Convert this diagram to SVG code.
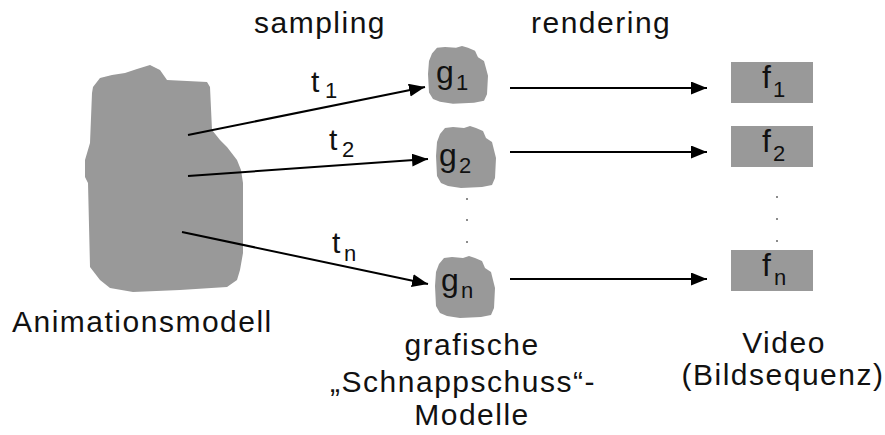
<svg xmlns="http://www.w3.org/2000/svg" width="885" height="435" viewBox="0 0 885 435">
<style>
.lbl{font-family:"Liberation Sans",Arial,sans-serif;font-size:30px;letter-spacing:1.5px;fill:#111}
.sym{font-family:"Liberation Sans",Arial,sans-serif;font-size:32px;fill:#111}
.tl{font-size:30px}
.sub{font-size:22px}
.blob{fill:#999999}
.box{fill:#999999}
.dot{fill:#666}
.conn{stroke:#000;stroke-width:2;fill:none}
</style>
<defs>
<marker id="ah" markerUnits="userSpaceOnUse" markerWidth="17" markerHeight="14" refX="16" refY="6.5" orient="auto">
<path d="M0,0 L16,6.5 L0,13 Z" fill="#000"/>
</marker>
<path id="gblob" d="M4,8 L9,2 L17,1 L28,2 L34,0 L40,2 L47,5 L50,12 L56,16 L58,24 L60,32 L59,52 L56,59 L46,61 L25,62 L12,60 L5,57 L1,50 L0,30 L1,16 Z"/>
</defs>
<rect width="885" height="435" fill="#fff"/>

<text class="lbl" x="254" y="33">sampling</text>
<text class="lbl" x="531" y="33" letter-spacing="0.5">rendering</text>

<g id="animationsmodell">
<path class="blob" d="M93,87 L100,78 L112,75 L125,73 L137,69 L150,65 L160,70 L167,80 L207,82 L210,87 L212,130 L220,140 L227,147 L237,160 L241,170 L243,183 L243,253 L240,270 L237,280 L227,287 L180,290 L133,292 L110,288 L100,280 L90,267 L88,183 L85,177 L85,160 L90,143 L92,93 Z"/>
<text class="lbl" x="12" y="332">Animationsmodell</text>
</g>

<g id="g1">
<use href="#gblob" class="blob" transform="translate(428,46) scale(1,0.93)"/>
<text class="sym" x="436" y="83">g<tspan class="sub" x="456" y="90">1</tspan></text>
</g>
<g id="g2">
<use href="#gblob" class="blob" transform="translate(436,126)"/>
<text class="sym" x="439" y="166">g<tspan class="sub" x="459" y="173">2</tspan></text>
</g>
<g id="gn">
<use href="#gblob" class="blob" transform="translate(435,256)"/>
<text class="sym" x="441" y="291">g<tspan class="sub" x="461" y="298">n</tspan></text>
</g>
<g id="gdots">
<circle class="dot" cx="467" cy="199" r="1"/>
<circle class="dot" cx="467" cy="220" r="1"/>
<circle class="dot" cx="467" cy="242" r="1"/>
</g>
<g id="snapshot-label">
<text class="lbl" x="472" y="355" text-anchor="middle">grafische</text>
<text class="lbl" x="463" y="392" text-anchor="middle">„Schnappschuss“-</text>
<text class="lbl" x="472" y="425" text-anchor="middle">Modelle</text>
</g>

<g id="f1">
<rect class="box" x="731" y="62" width="82" height="41"/>
<text class="sym" x="762" y="88">f<tspan class="sub" x="773" y="97">1</tspan></text>
</g>
<g id="f2">
<rect class="box" x="731" y="126" width="82" height="41"/>
<text class="sym" x="762" y="152">f<tspan class="sub" x="773" y="161">2</tspan></text>
</g>
<g id="fn">
<rect class="box" x="731" y="250" width="82" height="41"/>
<text class="sym" x="762" y="276">f<tspan class="sub" x="774" y="285">n</tspan></text>
</g>
<g id="fdots">
<circle class="dot" cx="777" cy="197" r="1"/>
<circle class="dot" cx="777" cy="219" r="1"/>
<circle class="dot" cx="777" cy="241" r="1"/>
</g>
<g id="video-label">
<text class="lbl" x="784" y="353" text-anchor="middle">Video</text>
<text class="lbl" x="783" y="385" text-anchor="middle" letter-spacing="0.6">(Bildsequenz)</text>
</g>

<g id="connectors">
<line class="conn" x1="188" y1="135" x2="425" y2="87" marker-end="url(#ah)"/>
<line class="conn" x1="188" y1="176" x2="428" y2="159" marker-end="url(#ah)"/>
<line class="conn" x1="182" y1="232" x2="428" y2="284" marker-end="url(#ah)"/>
<line class="conn" x1="510" y1="88" x2="707" y2="88" marker-end="url(#ah)"/>
<line class="conn" x1="510" y1="152" x2="707" y2="152" marker-end="url(#ah)"/>
<line class="conn" x1="510" y1="279" x2="707" y2="279" marker-end="url(#ah)"/>
<text class="sym tl" x="311" y="92">t<tspan class="sub" x="325" y="98">1</tspan></text>
<text class="sym tl" x="329" y="150">t<tspan class="sub" x="342" y="157">2</tspan></text>
<text class="sym tl" x="332" y="253">t<tspan class="sub" x="344" y="261">n</tspan></text>
</g>
</svg>
